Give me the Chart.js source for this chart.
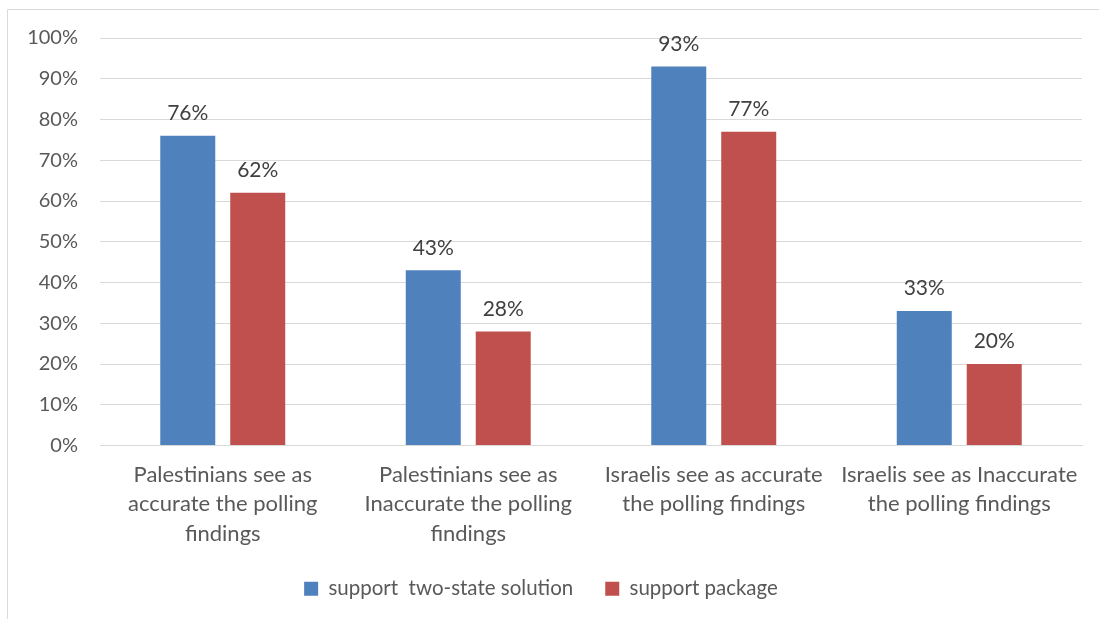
<!DOCTYPE html>
<html>
<head>
<meta charset="utf-8">
<script src="https://cdn.jsdelivr.net/npm/chart.js@4"></script>
<style>
  html, body { margin: 0; padding: 0; background: #fff; }
  #wrap { position: relative; width: 1099px; height: 619px; }
</style>
</head>
<body>
<div id="wrap"><canvas id="myChart" width="1099" height="619"></canvas></div>
<script>
  const categories = [
    ['Palestinians see as', 'accurate the polling', 'findings'],
    ['Palestinians see as', 'Inaccurate the polling', 'findings'],
    ['Israelis see as accurate', 'the polling findings'],
    ['Israelis see as Inaccurate', 'the polling findings']
  ];
  const twoState = [76, 43, 93, 33];
  const packageSupport = [62, 28, 77, 20];
  const seriesNames = ['support  two-state solution', 'support package'];

  const FONT = 'Lato, "Open Sans", sans-serif';
  const TEXT = '#595959';

  // value labels above each bar
  const valueLabels = {
    id: 'valueLabels',
    afterDatasetsDraw(chart) {
      const c = chart.ctx;
      c.save();
      c.font = '21px ' + FONT;
      c.fillStyle = '#404040';
      c.textAlign = 'center';
      c.textBaseline = 'bottom';
      chart.data.datasets.forEach((ds, i) => {
        chart.getDatasetMeta(i).data.forEach((bar, j) => {
          c.fillText(ds.data[j] + '%', bar.x, bar.y - 12);
        });
      });
      c.restore();
    }
  };

  // thin frame round the chart
  const frame = {
    id: 'frame',
    beforeDraw(chart) {
      const c = chart.ctx;
      c.save();
      c.strokeStyle = '#d9d9d9';
      c.lineWidth = 1;
      c.beginPath();
      c.moveTo(7.5, 619);
      c.lineTo(7.5, 9.5);
      c.lineTo(1099, 9.5);
      c.stroke();
      c.restore();
    }
  };

  const ctx = document.getElementById('myChart');

  new Chart(ctx, {
    type: 'bar',
    data: {
      labels: categories,
      datasets: [{
        label: seriesNames[0],
        data: twoState,
        backgroundColor: '#4F81BD'
      }, {
        label: seriesNames[1],
        data: packageSupport,
        backgroundColor: '#C0504D'
      }]
    },
    options: {
      responsive: false,
      animation: false,
      categoryPercentage: 0.57,
      barPercentage: 0.786,
      layout: { padding: { left: 0, top: 38, right: 17, bottom: 10 } },
      plugins: {
        legend: {
          position: 'bottom',
          labels: {
            color: TEXT,
            font: { family: FONT, size: 20.5 },
            boxWidth: 14,
            boxHeight: 14,
            padding: 32
          }
        },
        tooltip: { enabled: false }
      },
      scales: {
        y: {
          min: 0,
          max: 100,
          ticks: {
            stepSize: 10,
            padding: 22,
            color: TEXT,
            font: { family: FONT, size: 20 },
            callback: v => v + '%'
          },
          grid: { color: '#d9d9d9', drawTicks: false },
          border: { display: false },
          afterFit(scale) { scale.width = 100; }
        },
        x: {
          ticks: {
            color: TEXT,
            font: { family: FONT, size: 22, lineHeight: 1.36 },
            padding: 14,
            maxRotation: 0,
            autoSkip: false
          },
          grid: { display: false, drawTicks: false },
          border: { color: '#d9d9d9' },
          afterFit(scale) { scale.height = 101; }
        }
      }
    },
    plugins: [frame, valueLabels]
  });
</script>
</body>
</html>
